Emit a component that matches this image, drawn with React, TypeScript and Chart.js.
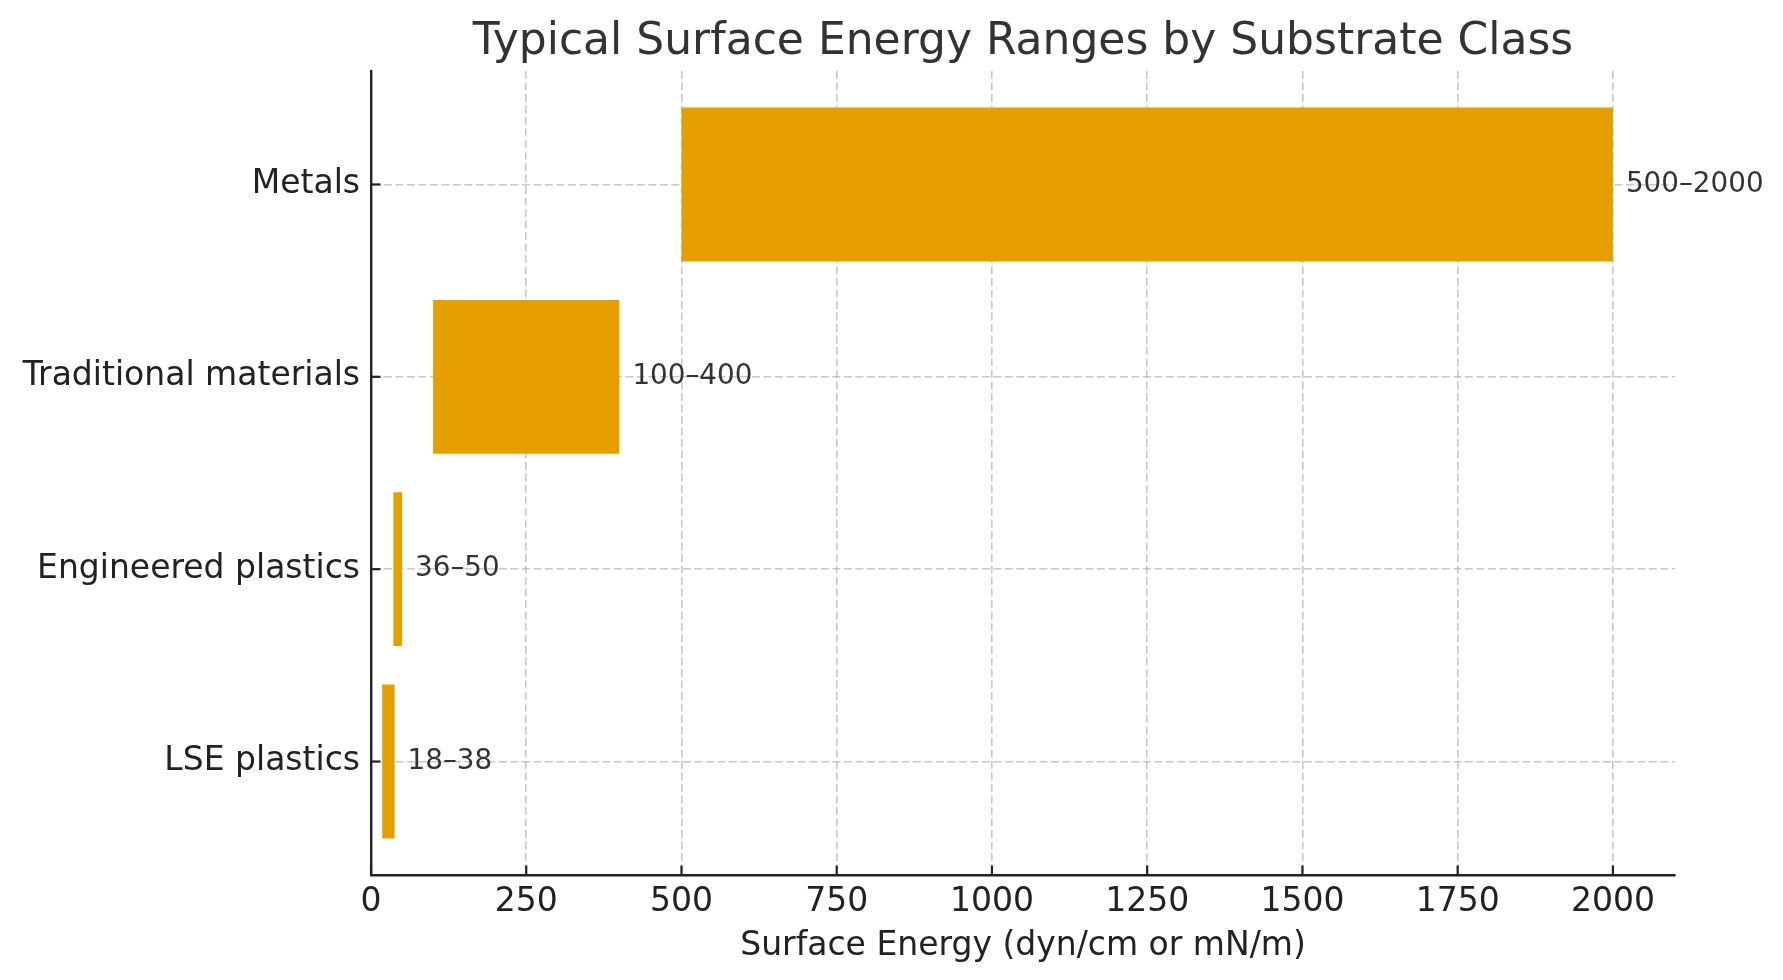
import { useEffect, useRef } from "react";
import { Chart, registerables } from "chart.js";

Chart.register(...registerables);

// --- data (bottom to top, like the reference) ---
const categories = ["LSE plastics", "Engineered plastics", "Traditional materials", "Metals"];
const lowValues = [18, 36, 100, 500];
const highValues = [38, 50, 400, 2000];
const rangeLabels = ["18–38", "36–50", "100–400", "500–2000"];
const xTicks = [0, 250, 500, 750, 1000, 1250, 1500, 1750, 2000];
const titleText = "Typical Surface Energy Ranges by Substrate Class";
const xTitleText = "Surface Energy (dyn/cm or mN/m)";

const FONT = "'DejaVu Sans', 'Liberation Sans', sans-serif";
const BAR = "#E69F00";
const INK = "#222222";

// titles, inward tick marks, range labels at the bar ends
const extras = {
  id: "extras",
  afterDraw(chart: any) {
    const { ctx, chartArea, scales } = chart;
    const x = scales.x;
    const y = scales.y;
    const midX = (chartArea.left + chartArea.right) / 2;
    ctx.save();
    ctx.strokeStyle = INK;
    ctx.lineWidth = 2.2;
    xTicks.forEach((v) => {
      const px = x.getPixelForValue(v);
      ctx.beginPath();
      ctx.moveTo(px, chartArea.bottom);
      ctx.lineTo(px, chartArea.bottom - 9.5);
      ctx.stroke();
    });
    categories.forEach((_, i) => {
      const py = y.getPixelForValue(i);
      ctx.beginPath();
      ctx.moveTo(chartArea.left, py);
      ctx.lineTo(chartArea.left + 9.5, py);
      ctx.stroke();
    });

    ctx.fillStyle = "#333333";
    ctx.font = `27.8px ${FONT}`;
    ctx.textAlign = "left";
    ctx.textBaseline = "middle";
    rangeLabels.forEach((t, i) => {
      ctx.fillText(t, x.getPixelForValue(highValues[i]) + 13, y.getPixelForValue(i));
    });

    ctx.textAlign = "center";
    ctx.font = `44px ${FONT}`;
    ctx.fillText(titleText, midX, 43);

    ctx.fillStyle = INK;
    ctx.font = `33px ${FONT}`;
    ctx.fillText(xTitleText, midX, 946);
    ctx.restore();
  },
};

export default function App() {
  const canvasRef = useRef<HTMLCanvasElement | null>(null);
  const chartRef = useRef<Chart | null>(null);

  useEffect(() => {
    document.body.style.margin = "0";
    if (!canvasRef.current) return;
    chartRef.current?.destroy();
    chartRef.current = new Chart(canvasRef.current, {
      type: "bar",
      data: {
        datasets: [
          {
            data: categories.map((_, i) => ({ x: [lowValues[i], highValues[i]], y: i })) as any,
            backgroundColor: BAR,
            borderWidth: 0,
            barPercentage: 0.8,
            categoryPercentage: 1,
          },
        ],
      },
      options: {
        indexAxis: "y",
        animation: false,
        responsive: true,
        maintainAspectRatio: false,
        devicePixelRatio: 1,
        layout: { padding: { left: 0, right: 108, top: 71, bottom: 0 } },
        plugins: {
          legend: { display: false },
          tooltip: { enabled: false },
          title: { display: false },
        },
        scales: {
          x: {
            type: "linear",
            min: 0,
            max: 2100,
            z: 1,
            afterBuildTicks: (axis: any) => {
              axis.ticks = xTicks.map((v) => ({ value: v }));
            },
            afterFit: (axis: any) => {
              axis.height = 105;
            },
            grid: {
              color: "rgba(176,176,176,0.7)",
              lineWidth: 1.6,
              drawTicks: false,
            },
            border: { display: true, color: INK, width: 2.4, dash: [8, 3.5] } as any,
            ticks: {
              color: INK,
              padding: 8,
              font: { family: FONT, size: 33 },
              maxRotation: 0,
              callback: (v: any) => String(v),
            },
          },
          y: {
            type: "linear",
            min: -0.59,
            max: 3.59,
            offset: false,
            z: 1,
            afterBuildTicks: (axis: any) => {
              axis.ticks = categories.map((_, i) => ({ value: i }));
            },
            afterFit: (axis: any) => {
              axis.width = 371;
            },
            grid: {
              offset: false,
              color: "rgba(176,176,176,0.7)",
              lineWidth: 1.6,
              drawTicks: false,
            },
            border: { display: true, color: INK, width: 2.4, dash: [8, 3.5] } as any,
            ticks: {
              color: INK,
              padding: 11,
              font: { family: FONT, size: 33 },
              callback: (v: any) => categories[v as number] ?? "",
            },
          },
        },
      },
      plugins: [extras],
    });
    return () => {
      chartRef.current?.destroy();
      chartRef.current = null;
    };
  }, []);

  return (
    <div style={{ width: 1783, height: 980, background: "#fff" }}>
      <canvas ref={canvasRef} />
    </div>
  );
}
